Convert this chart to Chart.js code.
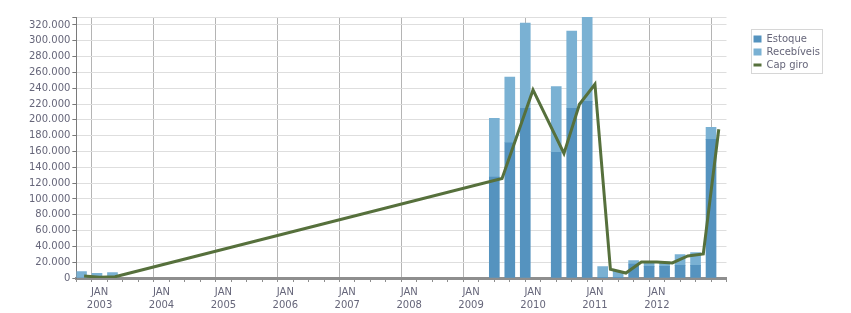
<!DOCTYPE html>
<html>
<head>
<meta charset="utf-8">
<script src="https://cdn.jsdelivr.net/npm/chart.js@4.4.1/dist/chart.umd.min.js"></script>
<style>
  html, body { margin: 0; background: #fff; }
  #wrap { width: 851px; height: 313px; }
</style>
</head>
<body>
<div id="wrap"><canvas id="chart" width="851" height="313"></canvas></div>
<script>
// bars: one per month (drawn mid-month)
const barMonths = ['2002-09', '2002-12', '2003-03', '2009-05', '2009-08', '2009-11', '2010-05', '2010-08',
  '2010-11', '2011-02', '2011-05', '2011-08', '2011-11', '2012-02', '2012-05', '2012-08', '2012-11'];
const estoque = [0, 0, 0, 127500, 171000, 214600, 158800, 214600,
  223400, 1000, 1000, 17700, 14700, 14700, 16000, 16000, 175300];
const recebiveis = [8000, 5800, 6700, 74400, 82900, 107700, 83300, 97600,
  106600, 13300, 7400, 4200, 6300, 5600, 13500, 16000, 15200];

// line: points at start of month
const lineMonths = ['2002-10', '2003-01', '2003-04', '2009-07', '2010-01', '2010-07', '2010-10', '2011-01',
  '2011-04', '2011-07', '2011-10', '2012-01', '2012-04', '2012-07', '2012-10', '2013-01'];
const capGiro = [2500, 1000, 1500, 125900, 237800, 157500, 219600, 245000,
  11000, 6300, 20300, 20300, 19000, 27900, 30400, 188000];

const yearLabels = ['2003', '2004', '2005', '2006', '2007', '2008', '2009', '2010', '2011', '2012'];
const yTicks = [0, 20000, 40000, 60000, 80000, 100000, 120000, 140000, 160000,
  180000, 200000, 220000, 240000, 260000, 280000, 300000, 320000];

const xMin = 2002.75, xMax = 2013, yMax = 330000;
const textColor = '#66667a';

function monthStart(s) {
  const [y, m] = s.split('-').map(Number);
  return y + (m - 1) / 12;
}
function monthMid(s) {
  const [y, m] = s.split('-').map(Number);
  return y + (m - 0.5) / 12;
}
function fmt(v) {
  return String(v).replace(/\B(?=(\d{3})+(?!\d))/g, '.');
}

const quarterTicks = [];
for (let q = xMin * 4; q <= xMax * 4; q++) quarterTicks.push(q / 4);

Chart.defaults.font.family = '"DejaVu Sans", sans-serif';
Chart.defaults.font.size = 10;

// thin frame round the legend
const legendFrame = {
  id: 'legendFrame',
  afterDraw(chart) {
    const lg = chart.legend;
    if (!lg || !lg.legendHitBoxes || !lg.legendHitBoxes.length) return;
    const hb = lg.legendHitBoxes;
    const first = hb[0], last = hb[hb.length - 1];
    const top = Math.round(first.top - 5);
    const bottom = Math.round(last.top + last.height + 3);
    const ctx = chart.ctx;
    ctx.save();
    ctx.strokeStyle = '#d6d6d6';
    ctx.lineWidth = 1;
    ctx.strokeRect(Math.round(lg.left) + 0.5, top + 0.5, 71, bottom - top);
    ctx.restore();
  }
};

new Chart(document.getElementById('chart'), {
  type: 'bar',
  data: {
    datasets: [
      {
        label: 'Estoque',
        data: barMonths.map((m, i) => ({ x: monthMid(m), y: estoque[i] })),
        backgroundColor: '#5593bf',
        stack: 'bars',
        barThickness: 10,
        pointStyle: 'rect',
        clip: 0,
        order: 1
      },
      {
        label: 'Recebíveis',
        data: barMonths.map((m, i) => ({ x: monthMid(m), y: recebiveis[i] })),
        backgroundColor: '#7ab1d3',
        stack: 'bars',
        barThickness: 10,
        pointStyle: 'rect',
        clip: 0,
        order: 1
      },
      {
        type: 'line',
        label: 'Cap giro',
        data: lineMonths.map((m, i) => ({ x: monthStart(m), y: capGiro[i] })),
        borderColor: '#56703c',
        backgroundColor: '#56703c',
        borderWidth: 3,
        pointRadius: 0,
        tension: 0,
        stack: 'line',
        pointStyle: 'line',
        order: 0
      }
    ]
  },
  options: {
    responsive: false,
    animation: false,
    devicePixelRatio: 1,
    layout: { padding: { left: 27, right: 21, top: 17, bottom: 0 } },
    plugins: {
      tooltip: { enabled: false },
      legend: {
        position: 'right',
        align: 'start',
        title: { display: true, text: '', padding: { top: 0, bottom: 2 }, font: { size: 10 } },
        labels: {
          usePointStyle: true,
          boxHeight: 7,
          pointStyleWidth: 8,
          padding: 3,
          color: textColor,
          font: { size: 10 },
          sort: (a, b) => a.datasetIndex - b.datasetIndex
        }
      }
    },
    scales: {
      x: {
        type: 'linear',
        min: xMin,
        max: xMax,
        stacked: true,
        afterBuildTicks: ax => { ax.ticks = quarterTicks.map(v => ({ value: v })); },
        afterFit: s => { s.height = 35; },
        ticks: {
          autoSkip: false,
          maxRotation: 0,
          minRotation: 0,
          padding: 4,
          color: textColor,
          font: { size: 10, lineHeight: 1.3 },
          callback: v => yearLabels.includes(String(v)) ? ['JAN', String(v)] : ''
        },
        grid: {
          color: c => (c.tick && Number.isInteger(c.tick.value)) ? '#b4b4b4' : 'rgba(0,0,0,0)',
          tickColor: '#8e8e8e',
          tickLength: 4
        },
        border: { color: '#8e8e8e', width: 3 }
      },
      y: {
        min: 0,
        max: yMax,
        stacked: true,
        afterBuildTicks: ax => { ax.ticks = yTicks.concat([yMax]).map(v => ({ value: v })); },
        ticks: {
          padding: 2,
          color: textColor,
          callback: v => yTicks.includes(v) ? fmt(v) : ''
        },
        grid: { color: '#dedede', tickColor: '#7a7a7a', tickLength: 4 },
        border: { color: '#7a7a7a', width: 1 }
      },
      gap: {
        type: 'linear',
        position: 'right',
        display: true,
        grid: { display: false },
        border: { display: false },
        ticks: { display: false },
        afterFit: s => { s.width = 24; }
      }
    }
  },
  plugins: [legendFrame]
});
</script>
</body>
</html>
